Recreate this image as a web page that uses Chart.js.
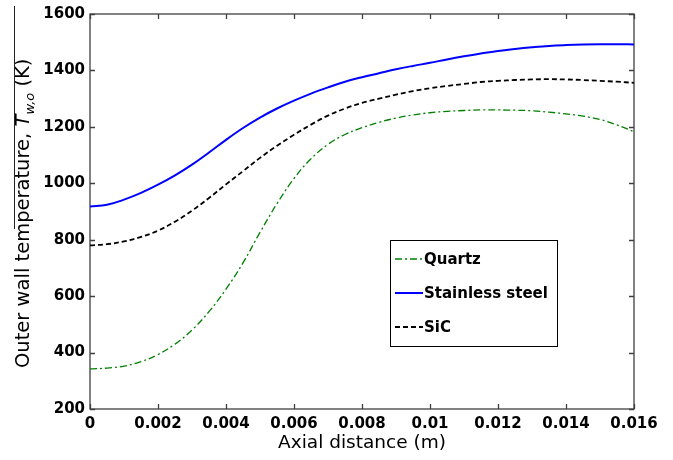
<!DOCTYPE html>
<html>
<head>
<meta charset="utf-8">
<script src="https://cdn.jsdelivr.net/npm/chart.js@4/dist/chart.umd.min.js"></script>
<style>
  html, body { margin: 0; padding: 0; background: #fff; }
  #wrap { position: relative; width: 673px; height: 460px; }
</style>
</head>
<body>
<div id="wrap"><canvas id="chart"></canvas></div>
<script>
'use strict';

// axial distance (m), same grid for every series
const axialDistance = [0, 0.0005, 0.001, 0.0015, 0.002, 0.0025, 0.003, 0.0035, 0.004, 0.0045,
  0.005, 0.0055, 0.006, 0.0065, 0.007, 0.0075, 0.008, 0.0085, 0.009, 0.0095, 0.01, 0.0105,
  0.011, 0.0115, 0.012, 0.0125, 0.013, 0.0135, 0.014, 0.0145, 0.015, 0.0155, 0.016];

// outer wall temperature (K)
const quartz = [342, 345, 352, 368, 393, 430, 480, 545, 625, 718,
  826, 928, 1017, 1087, 1138, 1173, 1197, 1216, 1231, 1242, 1250, 1255,
  1258, 1260, 1260, 1259, 1257, 1252, 1246, 1238, 1226, 1207, 1183];
const stainless = [918, 924, 942, 966, 995, 1028, 1066, 1109, 1154, 1196,
  1233, 1265, 1293, 1318, 1340, 1360, 1376, 1390, 1404, 1416, 1427, 1439,
  1450, 1460, 1469, 1476, 1482, 1487, 1490, 1492, 1493, 1493, 1492];
const sic = [780, 784, 794, 810, 832, 864, 903, 948, 996, 1043,
  1090, 1133, 1172, 1208, 1240, 1265, 1285, 1300, 1314, 1327, 1337, 1345,
  1352, 1359, 1363, 1366, 1368, 1369, 1368, 1366, 1363, 1360, 1356];

const seriesNames = ['Quartz', 'Stainless steel', 'SiC'];
const xTicks = [0, 0.002, 0.004, 0.006, 0.008, 0.01, 0.012, 0.014, 0.016];
const yTicks = [200, 400, 600, 800, 1000, 1200, 1400, 1600];

const BOLD = 'bold 15px "DejaVu Sans"';
const pts = arr => arr.map((v, i) => ({ x: axialDistance[i], y: v }));

// MATLAB-like box, inward ticks, legend and axis titles
const matlabAxes = {
  id: 'matlabAxes',
  beforeDatasetsDraw(chart) {
    const { ctx, chartArea: a, scales: { x, y } } = chart;
    ctx.save();
    ctx.strokeStyle = '#404040';
    ctx.lineWidth = 1.3;
    ctx.strokeRect(a.left, a.top, a.right - a.left, a.bottom - a.top);
    ctx.beginPath();
    xTicks.forEach(v => {
      const px = Math.round(x.getPixelForValue(v)) + 0.5;
      ctx.moveTo(px, a.bottom); ctx.lineTo(px, a.bottom - 5);
      ctx.moveTo(px, a.top); ctx.lineTo(px, a.top + 5);
    });
    yTicks.forEach(v => {
      const py = Math.round(y.getPixelForValue(v)) + 0.5;
      ctx.moveTo(a.left, py); ctx.lineTo(a.left + 5, py);
      ctx.moveTo(a.right, py); ctx.lineTo(a.right - 5, py);
    });
    ctx.stroke();
    ctx.restore();
  },
  afterDraw(chart) {
    const { ctx, chartArea: a } = chart;
    ctx.save();

    // legend
    const lx = 390, ly = 240, lw = 167, lh = 106;
    ctx.fillStyle = '#fff';
    ctx.fillRect(lx, ly, lw, lh);
    ctx.strokeStyle = '#000';
    ctx.lineWidth = 1;
    ctx.setLineDash([]);
    ctx.strokeRect(lx + 0.5, ly + 0.5, lw, lh);
    chart.data.datasets.forEach((ds, i) => {
      const cy = 259 + i * 34;
      ctx.strokeStyle = ds.borderColor;
      ctx.lineWidth = ds.borderWidth;
      ctx.setLineDash(ds.borderDash || []);
      ctx.beginPath();
      ctx.moveTo(395, cy); ctx.lineTo(423, cy);
      ctx.stroke();
      ctx.setLineDash([]);
      ctx.fillStyle = '#000';
      ctx.font = BOLD;
      ctx.textBaseline = 'middle';
      ctx.textAlign = 'left';
      ctx.fillText(ds.label, 424, cy + 1);
    });

    // x title
    ctx.fillStyle = '#000';
    ctx.font = '18.5px "DejaVu Sans"';
    ctx.textAlign = 'center';
    ctx.textBaseline = 'middle';
    ctx.fillText('Axial distance (m)', (a.left + a.right) / 2, 443);

    // y title with italic T and subscript
    ctx.translate(29, 368);
    ctx.rotate(-Math.PI / 2);
    ctx.textAlign = 'left';
    ctx.textBaseline = 'alphabetic';
    let cx = 0;
    const part = (txt, font, dy) => {
      ctx.font = font;
      ctx.fillText(txt, cx, dy);
      cx += ctx.measureText(txt).width;
    };
    part('Outer wall temperature, ', '19.5px "DejaVu Sans"', 0);
    part('T', 'italic 19.5px "DejaVu Sans"', 0);
    part('w,o', 'italic 13px "DejaVu Sans"', 5);
    part(' (K)', '19.5px "DejaVu Sans"', 0);
    ctx.restore();

    // stray rule at the left edge of the original figure
    ctx.save();
    ctx.strokeStyle = '#222';
    ctx.lineWidth = 1;
    ctx.beginPath();
    ctx.moveTo(14.5, 6); ctx.lineTo(14.5, 229);
    ctx.stroke();
    ctx.restore();
  }
};

new Chart(document.getElementById('chart'), {
  type: 'line',
  data: {
    datasets: [
      {
        label: seriesNames[0], data: pts(quartz),
        borderColor: '#008000', borderWidth: 1.3, borderDash: [7, 3, 2, 3],
      },
      {
        label: seriesNames[1], data: pts(stainless),
        borderColor: '#0000ff', borderWidth: 2,
      },
      {
        label: seriesNames[2], data: pts(sic),
        borderColor: '#000000', borderWidth: 1.8, borderDash: [5, 3],
      },
    ],
  },
  options: {
    responsive: true,
    maintainAspectRatio: false,
    animation: false,
    layout: { padding: { left: 0, top: 14, right: 39, bottom: 0 } },
    elements: {
      point: { radius: 0 },
      line: { tension: 0.4, fill: false },
    },
    plugins: { legend: { display: false }, tooltip: { enabled: false } },
    scales: {
      x: {
        type: 'linear', min: 0, max: 0.016,
        afterBuildTicks: s => { s.ticks = xTicks.map(v => ({ value: v })); },
        afterFit: s => { s.height = 51; },
        grid: { display: false, drawTicks: false },
        border: { display: false },
        ticks: {
          color: '#000', font: { family: 'DejaVu Sans', size: 15, weight: 'bold' },
          padding: 6, maxRotation: 0, autoSkip: false,
          callback: v => String(+v.toFixed(3)),
        },
      },
      y: {
        type: 'linear', min: 200, max: 1600,
        afterBuildTicks: s => { s.ticks = yTicks.map(v => ({ value: v })); },
        afterFit: s => { s.width = 90; },
        grid: { display: false, drawTicks: false },
        border: { display: false },
        ticks: {
          color: '#000', font: { family: 'DejaVu Sans', size: 15, weight: 'bold' },
          padding: 5,
          callback: v => String(v),
        },
      },
    },
  },
  plugins: [matlabAxes],
});
</script>
</body>
</html>
